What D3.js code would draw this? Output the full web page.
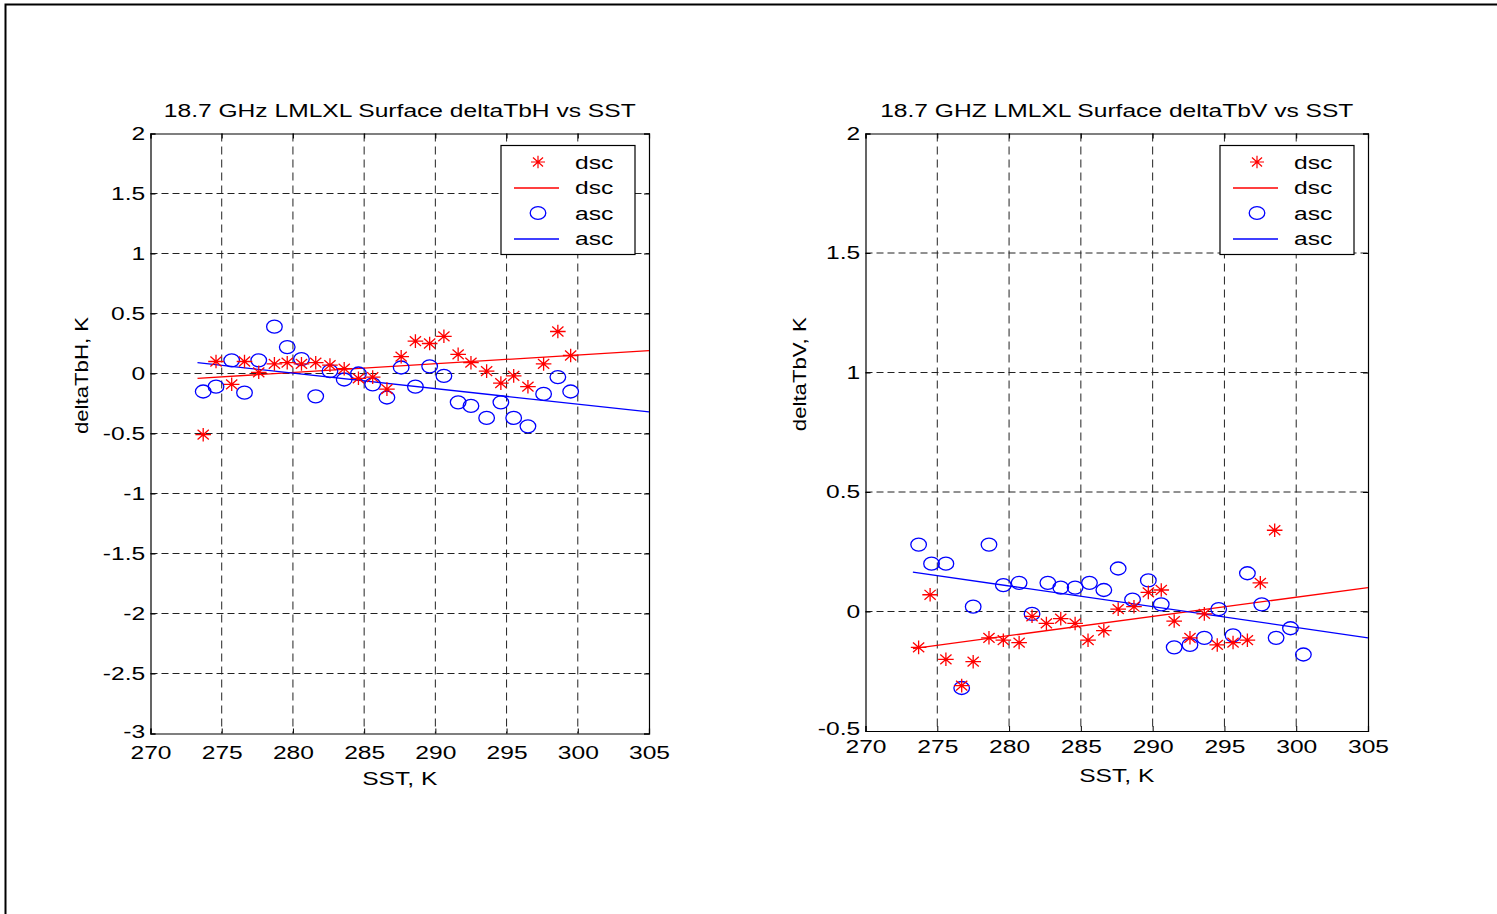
<!DOCTYPE html>
<html>
<head>
<meta charset="utf-8">
<script src="https://cdn.jsdelivr.net/npm/d3@7"></script>
<style>
  html, body { margin: 0; padding: 0; background: #fff; }
  svg { display: block; font-family: "Liberation Sans", Arial, Helvetica, sans-serif; }
</style>
</head>
<body>
<div id="chart"></div>
<script>
// ── data ──────────────────────────────────────────────────────
// left panel : deltaTbH
const sstH = [273.7, 274.6, 275.7, 276.6, 277.6, 278.7, 279.6, 280.6, 281.6, 282.6, 283.6, 284.6, 285.6, 286.6,
              287.6, 288.6, 289.6, 290.6, 291.6, 292.5, 293.6, 294.6, 295.5, 296.5, 297.6, 298.6, 299.5];
const dscH = [-0.51, 0.10, -0.09, 0.10, 0.01, 0.08, 0.09, 0.08, 0.09, 0.07, 0.04, -0.04, -0.03, -0.13,
              0.14, 0.27, 0.25, 0.31, 0.16, 0.09, 0.02, -0.08, -0.02, -0.11, 0.08, 0.35, 0.15];
const ascH = [-0.15, -0.11, 0.11, -0.16, 0.11, 0.39, 0.22, 0.12, -0.19, 0.02, -0.05, 0.00, -0.09, -0.20,
              0.05, -0.11, 0.06, -0.02, -0.24, -0.27, -0.37, -0.24, -0.37, -0.44, -0.17, -0.03, -0.15];
const fitSstH = [273.3, 305];
const dscFitH = [-0.04, 0.19];
const ascFitH = [0.09, -0.32];

// right panel : deltaTbV
const sstVasc = [273.7, 274.6, 275.6, 276.7, 277.5, 278.6, 279.6, 280.7, 281.6, 282.7, 283.6, 284.6, 285.6, 286.6,
                 287.6, 288.6, 289.7, 290.6, 291.5, 292.6, 293.6, 294.6, 295.6, 296.6, 297.6, 298.6, 299.6, 300.5];
const ascV = [0.28, 0.20, 0.20, -0.32, 0.02, 0.28, 0.11, 0.12, -0.01, 0.12, 0.10, 0.10, 0.12, 0.09,
              0.18, 0.05, 0.13, 0.03, -0.15, -0.14, -0.11, 0.01, -0.10, 0.16, 0.03, -0.11, -0.07, -0.18];
const sstVdsc = [273.7, 274.5, 275.6, 276.7, 277.5, 278.6, 279.6, 280.7, 281.6, 282.6, 283.6, 284.6, 285.5,
                 286.6, 287.6, 288.7, 289.7, 290.6, 291.5, 292.6, 293.6, 294.5, 295.6, 296.6, 297.5, 298.5];
const dscV = [-0.15, 0.07, -0.20, -0.31, -0.21, -0.11, -0.12, -0.13, -0.02, -0.05, -0.03, -0.05, -0.12,
              -0.08, 0.01, 0.02, 0.08, 0.09, -0.04, -0.11, -0.01, -0.14, -0.13, -0.12, 0.12, 0.34];
const fitSstV = [273.3, 305];
const dscFitV = [-0.155, 0.10];
const ascFitV = [0.165, -0.11];

const xTicks = [270, 275, 280, 285, 290, 295, 300, 305];
const yTicksH = [2, 1.5, 1, 0.5, 0, -0.5, -1, -1.5, -2, -2.5, -3];
const yTicksV = [2, 1.5, 1, 0.5, 0, -0.5];
const legendLabels = ["dsc", "dsc", "asc", "asc"];

// ── layout ───────────────────────────────────────────────────
const W = 1497, H = 914;
const SX = 1.33;          // the whole figure is stretched sideways
const FONT = 18.5;
const RED = "#ff0000", BLUE = "#0000ff";

const panels = [
    {
        title: "18.7 GHz LMLXL Surface deltaTbH vs SST", ylabel: "deltaTbH, K",
        left: 150.5, right: 649, top: 133.5, bottom: 733.5, ydom: [-3, 2], yTicks: yTicksH,
        xPad: 12, ylabelX: 88, xlabelY: 785,
        dsc: sstH.map((s, i) => [s, dscH[i]]), asc: sstH.map((s, i) => [s, ascH[i]]),
        dscFit: fitSstH.map((s, i) => [s, dscFitH[i]]), ascFit: fitSstH.map((s, i) => [s, ascFitH[i]])
    },
    {
        title: "18.7 GHZ LMLXL Surface deltaTbV vs SST", ylabel: "deltaTbV, K",
        left: 865.5, right: 1368, top: 133.5, bottom: 731, ydom: [-0.5, 2], yTicks: yTicksV,
        xPad: 9, ylabelX: 806, xlabelY: 782,
        dsc: sstVdsc.map((s, i) => [s, dscV[i]]), asc: sstVasc.map((s, i) => [s, ascV[i]]),
        dscFit: fitSstV.map((s, i) => [s, dscFitV[i]]), ascFit: fitSstV.map((s, i) => [s, ascFitV[i]])
    }
];

const svg = d3.select("#chart").append("svg")
    .attr("width", W).attr("height", H);

svg.append("rect").attr("width", W).attr("height", H).attr("fill", "#fff");

// outer figure frame (only top and left edges visible)
svg.append("path")
    .attr("d", `M5.5,${H} V4.5 H${W}`)
    .attr("fill", "none").attr("stroke", "#000").attr("stroke-width", 2);

function stretchedText(g, x, y, str, anchor) {
    return g.append("text")
        .attr("transform", `translate(${x},${y}) scale(${SX},1)`)
        .attr("text-anchor", anchor)
        .attr("font-size", FONT)
        .attr("fill", "#000")
        .text(str);
}

function starPath(cx, cy, a, b) {
    const d = 0.72;
    return `M${cx - a},${cy}H${cx + a}M${cx},${cy - b}V${cy + b}` +
        `M${cx - a * d},${cy - b * d}L${cx + a * d},${cy + b * d}` +
        `M${cx - a * d},${cy + b * d}L${cx + a * d},${cy - b * d}`;
}

panels.forEach(function (p) {
    const x = d3.scaleLinear().domain([270, 305]).range([p.left, p.right]);
    const y = d3.scaleLinear().domain(p.ydom).range([p.bottom, p.top]);
    const g = svg.append("g");

    // ── dashed grid ──
    g.append("g").selectAll("line")
        .data(xTicks.slice(1, -1))
        .join("line")
        .attr("x1", d => x(d)).attr("x2", d => x(d))
        .attr("y1", p.top).attr("y2", p.bottom)
        .attr("stroke", "#222").attr("stroke-width", 1).attr("stroke-dasharray", "8,5");
    g.append("g").selectAll("line")
        .data(p.yTicks.filter(t => t > p.ydom[0] && t < p.ydom[1]))
        .join("line")
        .attr("x1", p.left).attr("x2", p.right)
        .attr("y1", d => y(d)).attr("y2", d => y(d))
        .attr("stroke", "#222").attr("stroke-width", 1).attr("stroke-dasharray", "7,4");

    // ── axes: inward ticks on all four sides ──
    const axB = g.append("g").attr("transform", `translate(0,${p.bottom})`)
        .call(d3.axisBottom(x).tickValues(xTicks).tickSize(-5).tickPadding(p.xPad).tickFormat(d3.format("d")));
    const axL = g.append("g").attr("transform", `translate(${p.left},0)`)
        .call(d3.axisLeft(y).tickValues(p.yTicks).tickSize(-5).tickPadding(4).tickFormat(d => String(d)));
    g.append("g").attr("transform", `translate(0,${p.top})`)
        .call(d3.axisTop(x).tickValues(xTicks).tickSize(-5).tickFormat(""));
    g.append("g").attr("transform", `translate(${p.right},0)`)
        .call(d3.axisRight(y).tickValues(p.yTicks).tickSize(-5).tickFormat(""));

    g.selectAll(".domain").attr("stroke", "#000").attr("stroke-width", 1.2);
    g.selectAll(".tick line").attr("stroke", "#000");
    [axB, axL].forEach(a => a.attr("font-size", FONT)
        .attr("font-family", "'Liberation Sans', Arial, Helvetica, sans-serif"));
    axB.selectAll("text").attr("fill", "#000").attr("transform", `scale(${SX},1)`);
    axL.selectAll("text").attr("fill", "#000").attr("transform", `scale(${SX},1)`)
        .attr("dy", (d, i) => d === p.ydom[0] ? "0.2em" : "0.32em");

    // ── fit lines ──
    const line = d3.line().x(d => x(d[0])).y(d => y(d[1]));
    g.append("path").attr("d", line(p.dscFit))
        .attr("fill", "none").attr("stroke", RED).attr("stroke-width", 1.3);
    g.append("path").attr("d", line(p.ascFit))
        .attr("fill", "none").attr("stroke", BLUE).attr("stroke-width", 1.3);

    // ── markers ──
    g.append("g").selectAll("ellipse")
        .data(p.asc)
        .join("ellipse")
        .attr("cx", d => x(d[0])).attr("cy", d => y(d[1]))
        .attr("rx", 7.8).attr("ry", 6.5)
        .attr("fill", "none").attr("stroke", BLUE).attr("stroke-width", 1.3);
    g.append("g").selectAll("path")
        .data(p.dsc)
        .join("path")
        .attr("d", d => starPath(x(d[0]), y(d[1]), 7.8, 6.8))
        .attr("fill", "none").attr("stroke", RED).attr("stroke-width", 1.3);

    // ── labels ──
    stretchedText(g, (p.left + p.right) / 2, 117, p.title, "middle");
    stretchedText(g, (p.left + p.right) / 2, p.xlabelY, "SST, K", "middle");
    g.append("text")
        .attr("transform", `translate(${p.ylabelX},${(p.top + p.bottom) / 2 - 58}) rotate(-90) scale(1.2,1)`)
        .attr("text-anchor", "middle")
        .attr("font-size", 18.5)
        .attr("fill", "#000")
        .text(p.ylabel);

    // ── legend ──
    const lx = p.right - 148, ly = 145.5;
    const lg = g.append("g").attr("transform", `translate(${lx},${ly})`);
    lg.append("rect").attr("width", 134).attr("height", 109)
        .attr("fill", "#fff").attr("stroke", "#000").attr("stroke-width", 1.2);
    legendLabels.forEach(function (lab, i) {
        const cy = 16.5 + i * 25.5;
        const col = lab === "dsc" ? RED : BLUE;
        if (i === 0) {
            lg.append("path").attr("d", starPath(37, cy, 7, 6.3))
                .attr("fill", "none").attr("stroke", col).attr("stroke-width", 1.2);
        } else if (i === 2) {
            lg.append("ellipse").attr("cx", 37).attr("cy", cy).attr("rx", 7.8).attr("ry", 6.3)
                .attr("fill", "none").attr("stroke", col).attr("stroke-width", 1.3);
        } else {
            lg.append("line").attr("x1", 13).attr("x2", 58).attr("y1", cy + 0.5).attr("y2", cy + 0.5)
                .attr("stroke", col).attr("stroke-width", 1.3);
        }
        stretchedText(lg, 74, cy + 6.5, lab, "start");
    });
});
</script>
</body>
</html>
